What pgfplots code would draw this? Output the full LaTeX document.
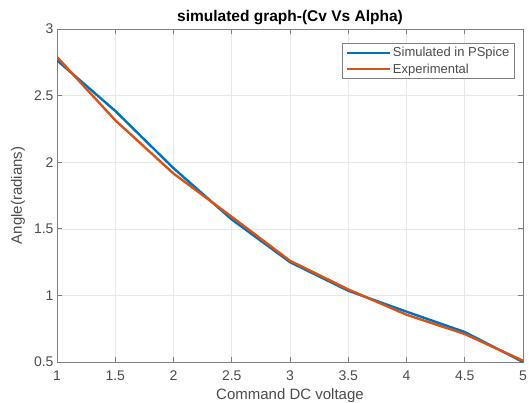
\documentclass[border=0pt]{standalone}
\usepackage{pgfplots}
\pgfplotsset{compat=1.18}
\usepackage{fontspec}
\setmainfont{Liberation Sans}
\definecolor{mblue}{rgb}{0,0.447,0.741}
\definecolor{morange}{rgb}{0.85,0.325,0.098}
\definecolor{axgray}{rgb}{0.5,0.5,0.5}
\definecolor{txtgray}{rgb}{0.3,0.3,0.3}
\begin{document}
\begin{tikzpicture}
\useasboundingbox (0,0) rectangle (529pt,402pt);
\begin{axis}[
  at={(57pt,40pt)}, anchor=south west,
  scale only axis, width=466pt, height=333pt,
  xmin=1, xmax=5, ymin=0.5, ymax=3,
  xtick={1,1.5,...,5}, ytick={0.5,1,...,3},
  /pgf/number format/assume math mode=true,
  tick label style={font=\fontsize{14}{16}\selectfont, text=txtgray},
  xticklabel style={yshift=-5pt},
  yticklabel style={xshift=0pt},
  grid=major, major grid style={gray!18, line width=0.6pt},
  axis line style={axgray, line width=0.8pt},
  tick style={axgray, line width=0.8pt},
  major tick length=5pt,
  tick align=inside,
  xtick pos=both, ytick pos=both,
  title={\textbf{simulated graph-(Cv Vs Alpha)}},
  title style={font=\fontsize{15.5}{17}\selectfont, at={(axis description cs:0.5,1)}, anchor=center, yshift=5pt},
  xlabel={Command DC voltage}, ylabel={Angle(radians)},
  label style={font=\fontsize{15}{17}\selectfont, text=txtgray},
  xlabel style={at={(axis description cs:0.5,-0.1)}, anchor=center},
  ylabel style={at={(axis description cs:-0.0837,0.5)}, anchor=center},
  legend style={at={(0.982,0.958)}, anchor=north east, draw=axgray, line width=0.6pt,
    font=\fontsize{13}{15}\selectfont, text=txtgray, inner xsep=3pt, inner ysep=2pt, row sep=1.5pt},
  legend cell align=left,
  legend image code/.code={\draw[#1, line width=2.4pt] (0pt,0pt) -- (43pt,0pt);},
]
\addplot[mblue, line width=2.4pt] coordinates {
 (1,2.765) (1.5,2.385) (2,1.955) (2.5,1.57) (3,1.25) (3.5,1.035) (4,0.878) (4.5,0.725) (5,0.5)
};
\addplot[morange, line width=2.4pt] coordinates {
 (1,2.79) (1.5,2.315) (2,1.915) (2.5,1.59) (3,1.26) (3.5,1.045) (4,0.855) (4.5,0.71) (5,0.51)
};
\legend{Simulated in PSpice, Experimental}
\end{axis}
\end{tikzpicture}
\end{document}
